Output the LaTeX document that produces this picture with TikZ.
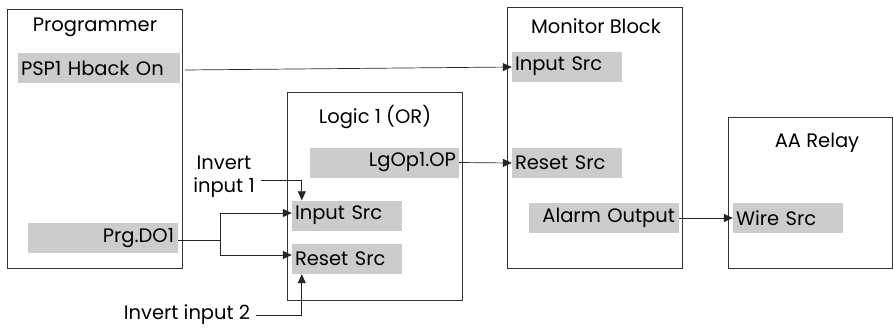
\documentclass[tikz,border=0pt]{standalone}
\usepackage{fontspec}
\setmainfont{Poppins}
\usetikzlibrary{arrows.meta}
\begin{document}
\begin{tikzpicture}[x=1pt,y=-1pt,
  blk/.style={draw=black!80, line width=0.9pt, fill=white, inner sep=0},
  port/.style={fill=black!20, inner sep=0, inner xsep=4pt, minimum height=30pt, font=\fontsize{19.5}{22}\selectfont},
  lbl/.style={inner sep=0, font=\fontsize{19.5}{23}\selectfont},
  wire/.style={draw=black!85, line width=0.7pt, -{Triangle[length=9pt,width=8pt]}}]
\useasboundingbox (0,0) rectangle (893,327);
% blocks
\node[blk, minimum width=175pt, minimum height=259pt, anchor=north west] (prog) at (7,9) {};
\node[blk, minimum width=175pt, minimum height=208pt, anchor=north west] (logic) at (287,92) {};
\node[blk, minimum width=175pt, minimum height=261pt, anchor=north west] (mon) at (507,7) {};
\node[blk, minimum width=164pt, minimum height=151pt, anchor=north west] (relay) at (728,117) {};
% titles
\node[lbl] (tprog) at (95,27) {Programmer};
\node[lbl] (tlogic) at (375,117) {Logic 1 (OR)};
\node[lbl] (tmon) at (596,26) {Monitor Block};
\node[lbl] (trelay) at (817,143) {AA Relay};
% ports
\node[port, minimum width=162pt, text width=156pt, inner xsep=3pt, align=left] (psp) at (99,68) {PSP1 Hback On};
\node[port, minimum width=150pt, text width=142pt, align=right] (prg) at (103,238) {Prg.DO1};
\node[port, minimum width=149pt, text width=143pt, inner xsep=3pt, align=right] (lgop) at (384.5,162.5) {LgOp1.OP};
\node[port, minimum width=110pt, text width=104pt, inner xsep=3pt, align=left] (linp) at (347,215.5) {Input Src};
\node[port, minimum width=110pt, text width=104pt, inner xsep=3pt, align=left] (lres) at (347,259) {Reset Src};
\node[port, minimum width=110pt, text width=104pt, inner xsep=3pt, align=left] (minp) at (567,66.5) {Input Src};
\node[port, minimum width=110pt, text width=104pt, inner xsep=3pt, align=left] (mres) at (567,163) {Reset Src};
\node[port, minimum width=150pt, text width=142pt, align=right] (alarm) at (604,218) {Alarm Output};
\node[port, minimum width=110pt, text width=104pt, inner xsep=3pt, align=left] (wsrc) at (788,218) {Wire Src};
% invert labels
\node[lbl, align=center] (inv1) at (224,177) {Invert\\input 1};
\node[lbl] (inv2) at (187,315) {Invert input 2};
% wires
\draw[wire] ([xshift=5pt,yshift=-2pt]psp.east) -- ([yshift=-0.5pt]minp.west);
\draw[wire] (lgop.east) -- (mres.west);
\draw[wire] (alarm.east) -- (wsrc.west);
\coordinate (j) at (220,240);
\draw[draw=black!85, line width=0.7pt] (prg.east |- j) -- (j);
\draw[wire] (j) |- ([yshift=2.5pt]linp.west);
\draw[wire] (j) |- ([yshift=4pt]lres.west);
\draw[wire] ([xshift=6pt,yshift=-3pt]inv1.east) -| ([xshift=10pt]linp.north west);
\draw[wire] ([xshift=6pt]inv2.east) -| ([xshift=10pt]lres.south west);
\end{tikzpicture}
\end{document}
